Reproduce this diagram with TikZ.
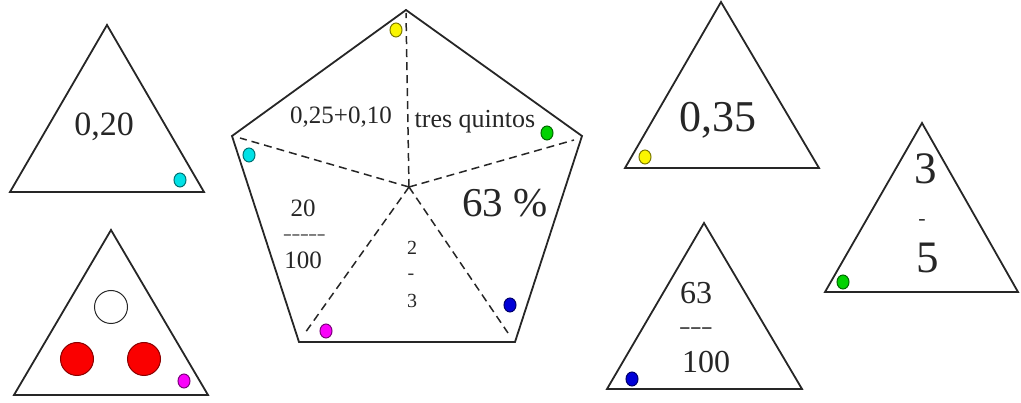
\documentclass[tikz,border=0pt]{standalone}
\usepackage{fontspec}
\setmainfont{Liberation Serif}
\newfontfamily\thinfont{Latin Modern Roman}
\usetikzlibrary{shapes.geometric}
\definecolor{dcyan}{RGB}{0,225,230}
\definecolor{dyellow}{RGB}{250,245,0}
\definecolor{dgreen}{RGB}{0,210,0}
\definecolor{dmag}{RGB}{250,0,250}
\definecolor{dblue}{RGB}{0,0,215}
\definecolor{dred}{RGB}{250,0,0}
\tikzset{
  outline/.style={draw=black!85, line width=1.8pt, line join=miter},
  divider/.style={draw=black!85, line width=1.5pt, dash pattern=on 8pt off 5pt},
  dot/.style={ellipse, draw=#1!50!black, fill=#1, line width=1pt, minimum width=12pt, minimum height=14pt, inner sep=0pt},
  lbl/.style={anchor=base, inner sep=0pt, text=black!85},
  bar/.style={inner sep=0pt, text=black!80},
  ball/.style={circle, fill=#1, line width=1pt, minimum size=33pt, inner sep=0pt}
}
\begin{document}
\begin{tikzpicture}[x=1pt,y=-1pt]
\useasboundingbox (0,0) rectangle (1021,403);
% triangle 1
\coordinate (t1a) at (107,25); \coordinate (t1l) at (10,192); \coordinate (t1r) at (204,192);
\draw[outline] (t1a) -- (t1l) -- (t1r) -- cycle;
\node[lbl, font=\fontsize{34}{34}\selectfont] (t1txt) at (104,136) {0,20};
\node[dot=dcyan] (t1dot) at (180,180) {};
% triangle 2
\coordinate (t2a) at (111,230); \coordinate (t2l) at (14,395); \coordinate (t2r) at (208,395);
\draw[outline] (t2a) -- (t2l) -- (t2r) -- cycle;
\node[ball=white, draw=black!85] (wball) at (111,307) {};
\node[ball=dred, draw=dred!55!black] (rball1) at (77,359) {};
\node[ball=dred, draw=dred!55!black] (rball2) at (144,359) {};
\node[dot=dmag] (t2dot) at (184,381) {};
% pentagon
\coordinate (pt) at (406,10); \coordinate (pl) at (232,136); \coordinate (pr) at (582,136);
\coordinate (pbl) at (299,342); \coordinate (pbr) at (515,342); \coordinate (pc) at (409,187);
\coordinate (et) at (406,13); \coordinate (el) at (240,138); \coordinate (er) at (574,140);
\coordinate (ebl) at (305,333); \coordinate (ebr) at (508,333);
\draw[outline] (pt) -- (pr) -- (pbr) -- (pbl) -- (pl) -- cycle;
\draw[divider] (pc) -- (et);
\draw[divider] (pc) -- (el);
\draw[divider] (pc) -- (er);
\draw[divider] (pc) -- (ebl);
\draw[divider] (pc) -- (ebr);
\node[lbl, font=\fontsize{25}{25}\selectfont] (sumtxt) at (341,124) {0,25+0,10};
\node[lbl, font=\fontsize{26}{26}\selectfont] (trestxt) at (475,128) {tres quintos};
\node[lbl, font=\fontsize{41}{41}\selectfont] (pcttxt) at (505,217) {63 \%};
\node[lbl, font=\fontsize{25}{25}\selectfont] (n20) at (303,217) {20};
\node[bar, font=\thinfont\fontsize{28}{28}\selectfont] (bar20) at (305,238) {-{}-{}-{}-{}-};
\node[lbl, font=\fontsize{25}{25}\selectfont] (d100) at (303,269) {100};
\node[lbl, font=\fontsize{20}{20}\selectfont] (n2) at (412,255) {2};
\node[bar, font=\fontsize{20}{20}\selectfont] (bar2) at (411,277) {-};
\node[lbl, font=\fontsize{20}{20}\selectfont] (d3) at (412,308) {3};
\node[dot=dyellow] (pdy) at (396,30) {};
\node[dot=dgreen] (pdg) at (547,133) {};
\node[dot=dcyan] (pdc) at (249,155) {};
\node[dot=dmag] (pdm) at (326,331) {};
\node[dot=dblue] (pdb) at (510,305) {};
% triangle 3
\coordinate (t3a) at (721,2); \coordinate (t3l) at (625,168); \coordinate (t3r) at (819,168);
\draw[outline] (t3a) -- (t3l) -- (t3r) -- cycle;
\node[lbl, font=\fontsize{44}{44}\selectfont] (t3txt) at (718,132) {0,35};
\node[dot=dyellow] (t3dot) at (645,157) {};
% triangle 4
\coordinate (t4a) at (704,223); \coordinate (t4l) at (607,389); \coordinate (t4r) at (802,389);
\draw[outline] (t4a) -- (t4l) -- (t4r) -- cycle;
\node[lbl, font=\fontsize{32}{32}\selectfont] (n63) at (696,304) {63};
\node[bar, font=\thinfont\fontsize{37}{37}\selectfont] (bar63) at (697,332) {-{}-{}-};
\node[lbl, font=\fontsize{32}{32}\selectfont] (d100b) at (706,373) {100};
\node[dot=dblue] (t4dot) at (632,379) {};
% triangle 5
\coordinate (t5a) at (922,123); \coordinate (t5l) at (825,292); \coordinate (t5r) at (1018,292);
\draw[outline] (t5a) -- (t5l) -- (t5r) -- cycle;
\node[lbl, font=\fontsize{45}{45}\selectfont] (n3) at (926,184) {3};
\node[bar, font=\fontsize{22}{22}\selectfont] (bar3) at (922,222) {-};
\node[lbl, font=\fontsize{45}{45}\selectfont] (d5) at (928,273) {5};
\node[dot=dgreen] (t5dot) at (843,282) {};
\end{tikzpicture}
\end{document}
